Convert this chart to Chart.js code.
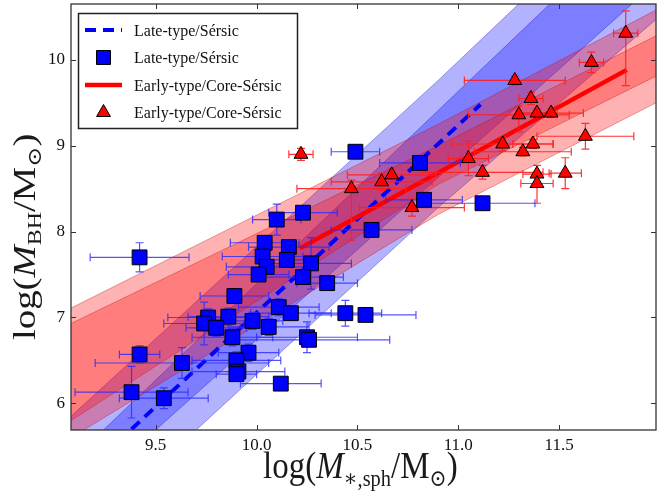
<!DOCTYPE html>
<html>
<head>
<meta charset="utf-8">
<script src="https://cdn.jsdelivr.net/npm/chart.js@4.4.1/dist/chart.umd.min.js"></script>
<style>
  html, body { margin: 0; padding: 0; background: #fff; }
</style>
</head>
<body>
<canvas id="grafico" width="672" height="494"></canvas>
<script>
// Ejes
const xMin = 9.08, xMax = 11.98;
const yMin = 5.69, yMax = 10.65;
const xTicks = [9.5, 10.0, 10.5, 11.0, 11.5];
const yTicks = [6, 7, 8, 9, 10];

// Late-type / Sérsic (cuadrados azules)
const lateX = [9.42, 10.49, 10.81, 10.83, 11.12, 10.57, 10.23, 10.10, 10.04, 10.16, 10.03, 10.15, 10.27, 10.05, 10.01, 10.23, 10.35, 9.89, 10.11, 10.17, 10.44, 10.54, 9.86, 9.98, 9.76, 9.74, 9.80, 10.06, 9.88, 10.25, 10.26, 9.42, 9.63, 9.96, 9.90, 9.91, 9.90, 10.12, 9.38, 9.54];
const lateY = [7.70, 8.93, 8.80, 8.37, 8.33, 8.02, 8.22, 8.14, 7.87, 7.82, 7.71, 7.67, 7.63, 7.59, 7.50, 7.47, 7.40, 7.25, 7.12, 7.05, 7.05, 7.03, 7.01, 6.96, 7.00, 6.93, 6.88, 6.89, 6.77, 6.77, 6.74, 6.57, 6.47, 6.59, 6.50, 6.37, 6.34, 6.23, 6.13, 6.06];
const lateXErr = [0.245, 0.12, 0.2, 0.19, 0.26, 0.2, 0.17, 0.12, 0.17, 0.2, 0.2, 0.15, 0.2, 0.2, 0.15, 0.2, 0.15, 0.17, 0.2, 0.2, 0.18, 0.25, 0.2, 0.15, 0.2, 0.2, 0.15, 0.2, 0.2, 0.25, 0.4, 0.1, 0.43, 0.15, 0.22, 0.23, 0.1, 0.2, 0.28, 0.22];
const lateYErr = [0.17, 0.05, 0.05, 0.05, 0.07, 0.03, 0.03, 0.18, 0.08, 0.07, 0.05, 0.05, 0.3, 0.05, 0.05, 0.05, 0.05, 0.05, 0.1, 0.05, 0.15, 0.05, 0.1, 0.1, 0.1, 0.25, 0.1, 0.1, 0.1, 0.18, 0.05, 0.1, 0.18, 0.1, 0.1, 0.05, 0.05, 0.05, 0.3, 0.12];

// Early-type / Core-Sérsic (triángulos rojos)
const earlyX = [10.22, 10.47, 10.62, 10.67, 10.77, 11.05, 11.12, 11.22, 11.28, 11.30, 11.32, 11.36, 11.37, 11.39, 11.39, 11.39, 11.46, 11.53, 11.63, 11.66, 11.83];
const earlyY = [8.90, 8.50, 8.58, 8.66, 8.28, 8.85, 8.69, 9.02, 9.76, 9.36, 8.93, 9.55, 9.02, 9.38, 8.67, 8.56, 9.38, 8.68, 9.11, 9.97, 10.31];
const earlyXErr = [0.06, 0.27, 0.25, 0.22, 0.26, 0.1, 0.3, 0.25, 0.25, 0.25, 0.24, 0.06, 0.1, 0.1, 0.07, 0.08, 0.16, 0.08, 0.24, 0.06, 0.06];
const earlyYErrLo = [0.07, 0.6, 0.1, 0.08, 0.1, 0.2, 0.08, 0.08, 0.05, 0.2, 0.05, 0.07, 0.05, 0.05, 0.1, 0.23, 0.05, 0.18, 0.15, 0.12, 0.61];
const earlyYErrHi = [0.07, 0.1, 0.1, 0.08, 0.1, 0.2, 0.08, 0.08, 0.05, 0.1, 0.05, 0.07, 0.05, 0.05, 0.1, 0.1, 0.05, 0.18, 0.15, 0.12, 0.26];

// Ajustes (rectas)
const lateFitX = [9.38, 11.11];
const lateFitY = [5.70, 9.48];
const earlyFitX = [10.215, 11.835];
const earlyFitY = [7.805, 9.883];

const bandX = [9.08, 10.9, 11.98];
const lateOuterHi = [5.85, 9.76, 12.17];
const lateOuterLo = [4.35, 8.28, 10.47];
const lateInnerHi = [5.33, 9.41, 11.83];
const lateInnerLo = [4.81, 8.63, 10.90];
const earlyOuterHi = [7.11, 9.25, 10.58];
const earlyOuterLo = [5.60, 8.20, 9.50];
const earlyInnerHi = [6.93, 9.00, 10.28];
const earlyInnerLo = [5.80, 8.55, 9.81];

const serif = "'Liberation Serif', 'DejaVu Serif', serif";

function puntos(xs, ys) {
  return xs.map((x, i) => ({ x: x, y: ys[i] }));
}

function borde(ys, color, fill, orden) {
  return {
    type: "line",
    data: puntos(bandX, ys),
    showLine: true,
    borderColor: color,
    borderWidth: 1,
    backgroundColor: fill ? fill : "transparent",
    fill: fill ? "+1" : false,
    pointRadius: 0,
    tension: 0,
    order: orden
  };
}

// Barras de error, dibujadas antes de los marcadores
let erroresHechos = false;
const barrasError = {
  id: "barrasError",
  beforeDatasetsDraw() { erroresHechos = false; },
  beforeDatasetDraw(chart, args) {
    const ds0 = chart.data.datasets[args.index];
    if (!ds0.errX || erroresHechos) return;
    erroresHechos = true;
    const ctx = chart.ctx, xs = chart.scales.x, ys = chart.scales.y, a = chart.chartArea;
    ctx.save();
    ctx.beginPath();
    ctx.rect(a.left, a.top, a.right - a.left, a.bottom - a.top);
    ctx.clip();
    chart.data.datasets.forEach(ds => {
      if (!ds.errX) return;
      ctx.strokeStyle = ds.colorError;
      ctx.lineWidth = 1.2;
      const cap = 4;
      ds.data.forEach((p, i) => {
        const px = xs.getPixelForValue(p.x), py = ys.getPixelForValue(p.y);
        const x0 = xs.getPixelForValue(p.x - ds.errX[i]);
        const x1 = xs.getPixelForValue(p.x + ds.errX[i]);
        const y0 = ys.getPixelForValue(p.y - ds.errYLo[i]);
        const y1 = ys.getPixelForValue(p.y + ds.errYHi[i]);
        ctx.beginPath();
        ctx.moveTo(x0, py); ctx.lineTo(x1, py);
        ctx.moveTo(x0, py - cap); ctx.lineTo(x0, py + cap);
        ctx.moveTo(x1, py - cap); ctx.lineTo(x1, py + cap);
        ctx.moveTo(px, y0); ctx.lineTo(px, y1);
        ctx.moveTo(px - cap, y0); ctx.lineTo(px + cap, y0);
        ctx.moveTo(px - cap, y1); ctx.lineTo(px + cap, y1);
        ctx.stroke();
      });
    });
    ctx.restore();
  }
};

// Texto con subíndices para los títulos de los ejes
function dibujarRico(ctx, partes, size) {
  let x = 0;
  partes.forEach(p => {
    const s = p.sub ? size * 0.62 : size;
    ctx.font = (p.it ? "italic " : "") + s + "px " + serif;
    ctx.fillText(p.t, x, p.sub ? size * 0.2 : 0);
    x += ctx.measureText(p.t).width;
  });
}

const marcoYTitulos = {
  id: "marcoYTitulos",
  afterDraw(chart) {
    const ctx = chart.ctx, a = chart.chartArea, xs = chart.scales.x, ys = chart.scales.y;
    ctx.save();
    ctx.strokeStyle = "#333";
    ctx.lineWidth = 1.3;
    ctx.strokeRect(a.left, a.top, a.right - a.left, a.bottom - a.top);
    ctx.lineWidth = 1;
    ctx.beginPath();
    xTicks.forEach(v => {
      const px = Math.round(xs.getPixelForValue(v)) + 0.5;
      ctx.moveTo(px, a.bottom); ctx.lineTo(px, a.bottom - 5);
      ctx.moveTo(px, a.top); ctx.lineTo(px, a.top + 5);
    });
    yTicks.forEach(v => {
      const py = Math.round(ys.getPixelForValue(v)) + 0.5;
      ctx.moveTo(a.left, py); ctx.lineTo(a.left + 5, py);
      ctx.moveTo(a.right, py); ctx.lineTo(a.right - 5, py);
    });
    ctx.stroke();
    ctx.restore();

    ctx.save();
    ctx.fillStyle = "#1a1a1a";
    ctx.textBaseline = "alphabetic";
    // título del eje x (algo estirado en vertical como en la figura original)
    ctx.translate(263, 478);
    ctx.scale(1, 1.15);
    dibujarRico(ctx, [
      { t: "log(" }, { t: "M", it: true }, { t: "\u2217,sph", sub: true },
      { t: "/M" }, { t: "\u2299", sub: true }, { t: ")" }
    ], 33);
    ctx.restore();

    ctx.save();
    ctx.fillStyle = "#1a1a1a";
    ctx.textBaseline = "alphabetic";
    // título del eje y
    ctx.translate(35, 340);
    ctx.rotate(-Math.PI / 2);
    ctx.scale(1.25, 1);
    dibujarRico(ctx, [
      { t: "log(" }, { t: "M", it: true }, { t: "BH", sub: true },
      { t: "/M" }, { t: "\u2299", sub: true }, { t: ")" }
    ], 31);
    ctx.restore();
  }
};

// Leyenda dentro del área del gráfico
const leyenda = {
  id: "leyenda",
  afterDraw(chart) {
    const ctx = chart.ctx;
    const items = chart.data.datasets.filter(d => d.enLeyenda).sort((p, q) => p.enLeyenda - q.enLeyenda);
    ctx.save();
    ctx.fillStyle = "#fff";
    ctx.fillRect(78.5, 13.5, 219, 115);
    ctx.strokeStyle = "#222";
    ctx.lineWidth = 1.5;
    ctx.strokeRect(78.5, 13.5, 219, 115);
    items.forEach((ds, i) => {
      const y = 30 + i * 27.5;
      if (ds.pointRadius === 0) {
        ctx.strokeStyle = ds.borderColor;
        ctx.lineWidth = ds.borderWidth;
        ctx.setLineDash(ds.borderDash || []);
        ctx.beginPath();
        ctx.moveTo(85, y); ctx.lineTo(122, y);
        ctx.stroke();
        ctx.setLineDash([]);
      } else {
        ctx.fillStyle = ds.backgroundColor;
        ctx.strokeStyle = "#000";
        ctx.lineWidth = 1;
        ctx.beginPath();
        if (ds.pointStyle === "rect") {
          ctx.rect(96.5, y - 7, 14, 14);
        } else {
          const r = ds.pointRadius;
          ctx.moveTo(103.5, y - r);
          ctx.lineTo(103.5 + r * 0.866, y + r * 0.5);
          ctx.lineTo(103.5 - r * 0.866, y + r * 0.5);
          ctx.closePath();
        }
        ctx.fill();
        ctx.stroke();
      }
      ctx.save();
      ctx.fillStyle = "#111";
      ctx.font = "16px " + serif;
      ctx.textBaseline = "middle";
      ctx.translate(134, y + 1);
      ctx.scale(1, 1.1);
      ctx.fillText(ds.label, 0, 0);
      ctx.restore();
    });
    ctx.restore();
  }
};

const azulBanda = "rgba(0,0,255,0.3)";
const rojoBanda = "rgba(255,0,0,0.3)";
const azulBorde = "rgba(0,0,180,0.35)";
const rojoBorde = "rgba(180,0,0,0.35)";

const datasets = [
  borde(lateOuterHi, azulBorde, azulBanda, 10),
  borde(lateOuterLo, azulBorde, null, 10),
  borde(lateInnerHi, azulBorde, azulBanda, 9),
  borde(lateInnerLo, azulBorde, null, 9),
  borde(earlyOuterHi, rojoBorde, rojoBanda, 8),
  borde(earlyOuterLo, rojoBorde, null, 8),
  borde(earlyInnerHi, rojoBorde, rojoBanda, 7),
  borde(earlyInnerLo, rojoBorde, null, 7),
  {
    type: "line",
    label: "Late-type/S\u00e9rsic",
    enLeyenda: 1,
    data: puntos(lateFitX, lateFitY),
    showLine: true,
    borderColor: "#0000ff",
    borderWidth: 4,
    borderDash: [11, 7],
    pointRadius: 0,
    fill: false,
    order: 4
  },
  {
    type: "line",
    label: "Early-type/Core-S\u00e9rsic",
    enLeyenda: 3,
    data: puntos(earlyFitX, earlyFitY),
    showLine: true,
    borderColor: "#ff0000",
    borderWidth: 4.5,
    pointRadius: 0,
    fill: false,
    order: 3
  },
  {
    label: "Late-type/S\u00e9rsic",
    enLeyenda: 2,
    data: puntos(lateX, lateY),
    errX: lateXErr,
    errYLo: lateYErr,
    errYHi: lateYErr,
    colorError: "rgba(40,40,255,0.8)",
    pointStyle: "rect",
    pointRadius: 10.5,
    backgroundColor: "#0000ff",
    borderColor: "#000",
    borderWidth: 1,
    order: 1
  },
  {
    label: "Early-type/Core-S\u00e9rsic",
    enLeyenda: 4,
    data: puntos(earlyX, earlyY),
    errX: earlyXErr,
    errYLo: earlyYErrLo,
    errYHi: earlyYErrHi,
    colorError: "rgba(255,30,30,0.9)",
    pointStyle: "triangle",
    pointRadius: 8,
    backgroundColor: "#ff0000",
    borderColor: "#000",
    borderWidth: 1,
    order: 0
  }
];

new Chart(document.getElementById("grafico").getContext("2d"), {
  type: "scatter",
  data: { datasets: datasets },
  options: {
    responsive: false,
    animation: false,
    devicePixelRatio: 1,
    layout: { autoPadding: false, padding: { top: 4, right: 16, left: 0, bottom: 0 } },
    plugins: {
      legend: { display: false },
      tooltip: { enabled: false }
    },
    scales: {
      x: {
        type: "linear",
        min: xMin,
        max: xMax,
        afterBuildTicks: s => { s.ticks = xTicks.map(v => ({ value: v })); },
        afterFit: s => { s.height = 64; },
        grid: { display: false, drawTicks: false },
        border: { display: false },
        ticks: {
          padding: 5,
          color: "#111",
          font: { family: serif, size: 17 },
          callback: v => v.toFixed(1)
        }
      },
      y: {
        type: "linear",
        min: yMin,
        max: yMax,
        afterBuildTicks: s => { s.ticks = yTicks.map(v => ({ value: v })); },
        afterFit: s => { s.width = 71; s.paddingTop = 0; s.paddingBottom = 0; },
        grid: { display: false, drawTicks: false },
        border: { display: false },
        ticks: {
          padding: 6,
          color: "#111",
          font: { family: serif, size: 17 },
          callback: v => String(v)
        }
      }
    }
  },
  plugins: [barrasError, marcoYTitulos, leyenda]
});
</script>
</body>
</html>
